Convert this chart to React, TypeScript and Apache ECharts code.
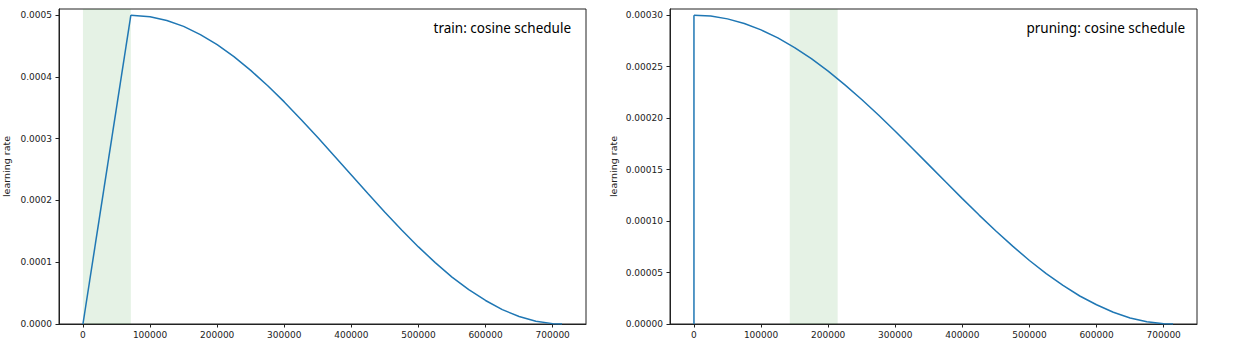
import React, { useEffect, useRef } from "react";
import * as echarts from "echarts";

// ---- data ----
const xTickValues = [0, 100000, 200000, 300000, 400000, 500000, 600000, 700000];
const trainYTicks = [0, 0.0001, 0.0002, 0.0003, 0.0004, 0.0005];
const pruneYTicks = [0, 0.00005, 0.0001, 0.00015, 0.0002, 0.00025, 0.0003];

const trainWarmupSteps = [0, 71400];
const trainWarmupLR = [0, 0.0005];
const trainDecaySteps = [
  71400, 100000, 125000, 150000, 175000, 200000, 225000, 250000, 275000, 300000, 325000,
  350000, 375000, 400000, 425000, 450000, 475000, 500000, 525000, 550000, 575000, 600000,
  625000, 650000, 675000, 700000, 714000,
];
const trainDecayLR = [
  0.0005, 0.0004976, 0.0004915, 0.0004818, 0.0004686, 0.0004522, 0.0004328, 0.0004106, 0.0003861, 0.0003596, 0.0003312,
  0.0003018, 0.0002716, 0.0002411, 0.0002107, 0.0001809, 0.0001521, 0.0001248, 0.0000994, 0.0000759, 0.0000555, 0.0000381,
  0.0000233, 0.0000121, 0.0000045, 0.0000006, 0,
];
const trainBand = [0, 71400];

const pruneJumpSteps = [0, 0];
const pruneJumpLR = [0, 0.0003];
const pruneDecaySteps = [
  0, 25000, 50000, 75000, 100000, 125000, 150000, 175000, 200000, 225000, 250000, 275000, 300000,
  325000, 350000, 375000, 400000, 425000, 450000, 475000, 500000, 525000, 550000, 575000, 600000,
  625000, 650000, 675000, 700000, 714000,
];
const pruneDecayLR = [
  0.0003, 0.0002991, 0.0002964, 0.0002919, 0.0002857, 0.0002779, 0.0002685, 0.0002577, 0.0002456, 0.0002323, 0.0002181, 0.000203, 0.0001872,
  0.000171, 0.0001546, 0.0001381, 0.0001218, 0.0001058, 0.0000904, 0.0000756, 0.0000617, 0.000049, 0.0000375, 0.0000272, 0.0000187,
  0.0000114, 0.0000059, 0.0000022, 0.0000003, 0,
];
const pruneBand = [142800, 214200];

const titles = ["train: cosine schedule", "pruning: cosine schedule"];
const yName = "learning rate";

const LINE = "#1f77b4";
const AX = "#222";

function zip(xs: number[], ys: number[]) {
  return xs.map((x, i) => [x, ys[i]]);
}

export default function App() {
  const ref = useRef<HTMLDivElement>(null);
  useEffect(() => {
    if (!ref.current) return;
    const chart = echarts.init(ref.current, null, { renderer: "svg" });
    const xAxisBase = (gridIndex: number) => ({
      type: "value",
      gridIndex,
      min: -35700,
      max: 749700,
      splitLine: { show: false },
      axisLine: { show: true, onZero: false, lineStyle: { color: AX, width: 1 } },
      axisTick: { show: true, length: 3.5, customValues: xTickValues, lineStyle: { color: AX } },
      axisLabel: {
        customValues: xTickValues,
        fontSize: 9,
        color: "#222",
        fontFamily: "DejaVu Sans",
        margin: 6,
        formatter: (v: number) => String(v),
      },
    });
    const yAxisBase = (gridIndex: number, max: number, ticks: number[], dec: number, gap: number) => ({
      type: "value",
      gridIndex,
      min: 0,
      max,
      name: yName,
      nameLocation: "middle",
      nameGap: gap,
      nameTextStyle: { fontSize: 9.5, color: "#222", fontFamily: "DejaVu Sans" },
      splitLine: { show: false },
      axisLine: { show: true, onZero: false, lineStyle: { color: AX, width: 1 } },
      axisTick: { show: true, length: 3.5, customValues: ticks, lineStyle: { color: AX } },
      axisLabel: {
        customValues: ticks,
        fontSize: 9,
        color: "#222",
        fontFamily: "DejaVu Sans",
        margin: 7,
        formatter: (v: number) => v.toFixed(dec),
      },
    });
    const band = (b: number[]) => ({
      silent: true,
      itemStyle: { color: "rgba(0,128,0,0.1)" },
      data: [[{ xAxis: b[0] }, { xAxis: b[1] }]],
    });
    const lineSeries = (idx: number, xs: number[], ys: number[], extra: any = {}) => ({
      type: "line",
      xAxisIndex: idx,
      yAxisIndex: idx,
      data: zip(xs, ys),
      showSymbol: false,
      lineStyle: { color: LINE, width: 1.5 },
      z: 3,
      ...extra,
    });
    chart.setOption({
      animation: false,
      grid: [
        { left: 59, top: 9, width: 527, height: 315, show: true, borderColor: AX, borderWidth: 1, backgroundColor: "transparent" },
        { left: 670, top: 9, width: 527, height: 315, show: true, borderColor: AX, borderWidth: 1, backgroundColor: "transparent" },
      ],
      xAxis: [xAxisBase(0), xAxisBase(1)],
      yAxis: [
        yAxisBase(0, 0.00051, trainYTicks, 4, 48),
        yAxisBase(1, 0.000306, pruneYTicks, 5, 52),
      ],
      graphic: [
        {
          type: "text",
          x: 571,
          y: 28,
          style: { text: titles[0], fontSize: 13.5, fontFamily: "Noto Sans", fill: "#000", align: "right", verticalAlign: "middle" },
        },
        {
          type: "text",
          x: 1185,
          y: 28,
          style: { text: titles[1], fontSize: 13.5, fontFamily: "Noto Sans", fill: "#000", align: "right", verticalAlign: "middle" },
        },
      ],
      series: [
        lineSeries(0, trainWarmupSteps, trainWarmupLR, { markArea: band(trainBand) }),
        lineSeries(0, trainDecaySteps, trainDecayLR),
        lineSeries(1, pruneJumpSteps, pruneJumpLR, { markArea: band(pruneBand) }),
        lineSeries(1, pruneDecaySteps, pruneDecayLR),
      ],
    });
    return () => chart.dispose();
  }, []);
  return (
    <div
      ref={ref}
      style={{ position: "fixed", left: 0, top: 0, width: 1236, height: 352, background: "#fff" }}
    />
  );
}
